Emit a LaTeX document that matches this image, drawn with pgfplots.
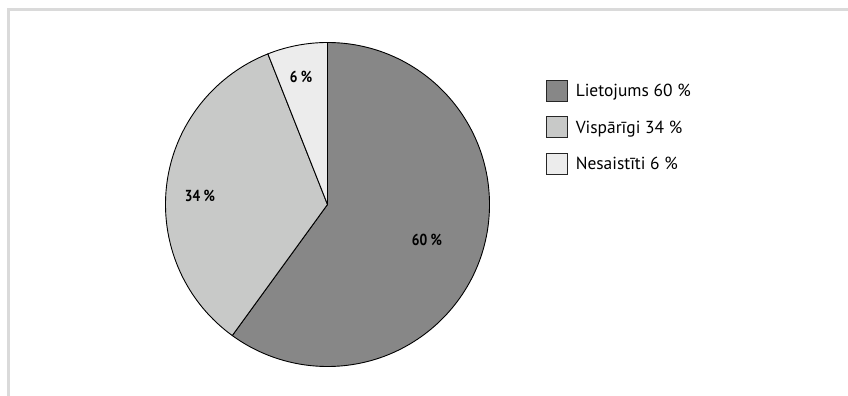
\documentclass[border=0pt]{standalone}
\usepackage{fontspec}
\setmainfont{PT Sans}
\usepackage{graphicx}
\usepackage{pgfplots}
\usepackage{pgfplotstable}
\pgfplotsset{compat=1.18}

\definecolor{pieA}{HTML}{878787}
\definecolor{pieB}{HTML}{C8C9C8}
\definecolor{pieC}{HTML}{ECECEC}
\definecolor{framegray}{HTML}{DADADA}

% shares in percent, clockwise from 12 o'clock
\pgfplotstableread{
share
60
34
6
}\piedata

\pgfplotstablegetelem{0}{share}\of\piedata \pgfmathsetmacro\eA{90-3.6*\pgfplotsretval}
\pgfplotstablegetelem{1}{share}\of\piedata \pgfmathsetmacro\eB{\eA-3.6*\pgfplotsretval}
\pgfplotstablegetelem{2}{share}\of\piedata \pgfmathsetmacro\eC{\eB-3.6*\pgfplotsretval}

\def\cx{327.5}
\def\cy{191.5}
\def\rad{162}

\begin{document}
\begin{tikzpicture}
\path[use as bounding box] (0,0) rectangle (848bp,396bp);
\begin{axis}[
  at={(0,0)}, anchor=south west,
  scale only axis, width=848bp, height=396bp,
  xmin=0, xmax=848, ymin=0, ymax=396,
  hide axis, clip=false,
  legend image code/.code={\draw[#1] (0bp,-10.5bp) rectangle (21bp,10.5bp);},
  legend cell align=left,
  legend style={
    at={(axis cs:546,316)}, anchor=north west,
    draw=none, fill=none, inner sep=0pt, outer sep=0pt,
    row sep=14.5bp, column sep=8bp,
    font=\fontsize{17.5}{20}\selectfont,
    nodes={inner sep=0pt, text height=12.5bp, text depth=0.5bp},
  },
]
% frame
\draw[framegray, line width=2.7bp]
  (axis cs:8.7,0) -- (axis cs:8.7,386.5) -- (axis cs:848,386.5);

% slices
\filldraw[fill=pieA, draw=black, line width=0.9bp, line join=round]
  (axis cs:\cx,\cy) -- ++(90:\rad bp) arc[start angle=90, end angle=\eA, radius=\rad bp] -- cycle;
\filldraw[fill=pieB, draw=black, line width=0.9bp, line join=round]
  (axis cs:\cx,\cy) -- ++(\eA:\rad bp) arc[start angle=\eA, end angle=\eB, radius=\rad bp] -- cycle;
\filldraw[fill=pieC, draw=black, line width=0.9bp, line join=round]
  (axis cs:\cx,\cy) -- ++(\eB:\rad bp) arc[start angle=\eB, end angle=\eC, radius=\rad bp] -- cycle;

% slice labels
\node[font=\bfseries\fontsize{16}{18}\selectfont] at (axis cs:427,156) {\scalebox{0.85}[1]{60 \%}};
\node[font=\bfseries\fontsize{16}{18}\selectfont] at (axis cs:200,200) {\scalebox{0.85}[1]{34 \%}};
\node[font=\bfseries\fontsize{16}{18}\selectfont] at (axis cs:301,319.5) {\scalebox{0.85}[1]{6 \%}};

\addlegendimage{fill=pieA, draw=black!85, line width=0.8bp}
\addlegendentry{Lietojums 60 \%}
\addlegendimage{fill=pieB, draw=black!85, line width=0.8bp}
\addlegendentry{Vispārīgi 34 \%}
\addlegendimage{fill=pieC, draw=black!85, line width=0.8bp}
\addlegendentry{Nesaistīti 6 \%}
\end{axis}
\end{tikzpicture}
\end{document}
